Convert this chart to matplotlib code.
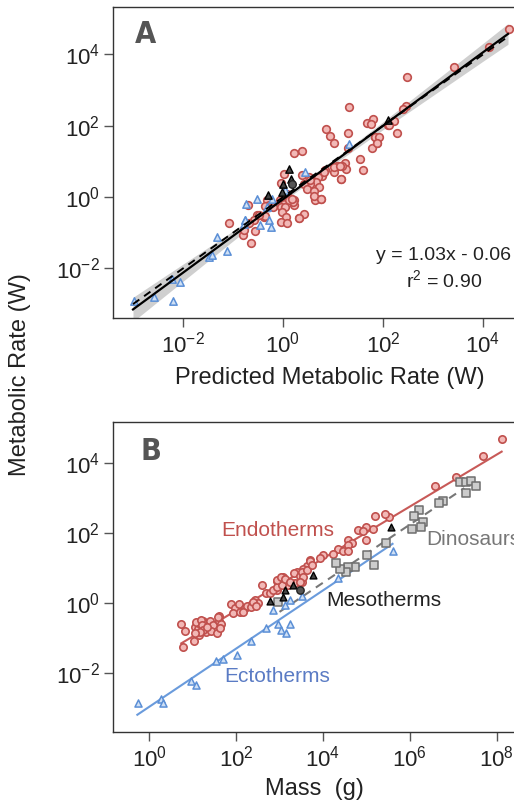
import numpy as np
import matplotlib
matplotlib.use("Agg")
import matplotlib.pyplot as plt
from matplotlib import ticker

plt.rcParams['font.family'] = ['Liberation Sans', 'DejaVu Sans']
plt.rcParams['mathtext.fontset'] = 'custom'
plt.rcParams['mathtext.rm'] = 'Liberation Sans'
plt.rcParams['mathtext.it'] = 'Liberation Sans:italic'
plt.rcParams['mathtext.bf'] = 'Liberation Sans:bold'

# --- data (log10 values) ---
# Panel A: predicted vs. observed metabolic rate
a_endo_x = [1.31, 0.86, 0.93, 1.29, 1.02, 1.67, 1.79, 1.75, 1.84, 1.88, 1.77, 2.09, 1.29, 1.53, 1.60,
            1.24, 1.26, 1.16, 1.02, 1.07, 1.17, 0.84, 0.77, 0.69, 0.66, 0.71, 0.54, 0.41, 0.47, 0.61,
            0.51, 0.37, 0.22, 0.38, 0.01, -0.04, 0.76, 0.64, 0.62, 0.07, 0.14, 0.21, 0.22, -0.06, 0.01,
            -0.05, 0.04, -0.03, -0.33, -0.29, -0.21, 0.41, 0.31, 0.06, -0.05, 0.07, -0.38, -0.53, -0.59,
            -0.69, -1.09, -0.71, -0.65, -0.81, -0.57, 3.41, 4.11, 4.51, 2.47, 2.45, 2.39, 2.21, 2.11,
            2.27, 1.83, 1.91, 1.87, 0.53, 0.81, 1.01, 1.13, 1.15, 0.75, 0.32, 0.19, 0.11, 0.17, -0.36,
            -0.37, -0.49, -0.78]
a_endo_y = [2.52, 1.92, 1.72, 1.79, 1.51, 2.08, 2.18, 2.05, 1.69, 1.53, 1.39, 2.02, 1.37, 1.07, 0.75,
            0.96, 0.78, 0.52, 0.71, 0.87, 0.87, 0.76, 0.59, 0.55, 0.43, 0.27, 0.36, 0.36, 0.24, 0.18,
            0.55, 0.63, 1.24, 1.28, 0.65, 0.40, -0.06, -0.08, 0.03, 0.08, -0.04, -0.08, -0.22, -0.08, -0.18,
            -0.29, -0.27, -0.41, -0.08, -0.22, -0.29, -0.48, -0.58, -0.57, -0.69, -0.72, -0.55, -0.50, -0.63,
            -0.74, -0.72, -0.22, -1.28, -1.07, -0.95, 3.64, 4.22, 4.71, 3.37, 2.56, 2.46, 2.14, 2.01,
            1.80, 1.69, 1.69, 1.52, 0.48, 0.71, 0.85, 0.87, 0.52, -0.06, -0.60, -0.13, -0.08, -0.04, -0.25,
            -0.53, -0.50, -0.91]
a_ecto_x = [1.31, 0.43, -0.53, -0.74, -0.23, -0.33, -0.76, -0.79, -0.46, -0.28, -0.24, 0.03, -2.98,
            -2.59, -2.21, -2.23, -2.07, -1.49, -1.42, -1.13, -1.33, -0.77]
a_ecto_y = [1.49, 0.71, -0.06, -0.20, -0.06, -0.27, -0.63, -0.76, -0.79, -0.65, -0.85, 0.20, -2.91,
            -2.80, -2.91, -2.29, -2.37, -1.67, -1.63, -1.51, -1.11, -0.65]
a_meso_x = [0.12, -0.01, 0.15, -0.03, -0.31, 2.09]
a_meso_y = [0.80, 0.36, 0.50, 0.15, 0.06, 2.16]
a_dino_x = [0.18]
a_dino_y = [0.36]

fit_slope, fit_icpt = 1.03, -0.06
fit_range = [-3.0, 4.5]
ci_x = [-3.0, -2.0, -1.0, 0.0, 0.5, 1.0, 2.0, 3.0, 4.0, 4.5]
ci_half = [0.34, 0.24, 0.14, 0.07, 0.06, 0.07, 0.11, 0.18, 0.25, 0.29]

# Panel B: metabolic rate vs. mass
b_endo_x = [8.11, 7.67, 7.06, 6.57, 5.52, 5.43, 5.20, 5.14, 5.00, 4.81, 4.93, 5.00, 4.58, 4.66, 4.58,
            4.35, 4.45, 4.58, 4.24, 3.99, 3.93, 3.70, 3.63, 3.55, 3.40, 3.34, 3.47, 3.09, 2.94, 3.51,
            3.36, 3.20, 2.59, 2.68, 2.78, 2.94, 2.44, 2.86, 2.95, 3.05, 2.94, 3.03, 3.13, 3.24, 3.51,
            3.55, 3.46, 3.64, 3.69, 3.74, 0.74, 0.82, 0.78, 1.03, 1.05, 1.13, 1.18, 1.23, 1.15, 1.28,
            1.36, 1.40, 1.46, 1.32, 1.43, 1.56, 1.61, 1.61, 1.66, 1.63, 1.09, 1.89, 1.97, 1.93, 2.07,
            2.08, 2.20, 2.25, 2.35, 2.45, 2.51, 1.19, 1.21, 1.25, 1.33, 1.16, 1.06, 1.59, 2.15, 2.40,
            2.46]
b_endo_y = [4.69, 4.21, 3.62, 3.36, 2.46, 2.55, 2.50, 2.12, 2.19, 2.09, 2.06, 1.81, 1.81, 1.71, 1.66,
            1.55, 1.50, 1.50, 1.40, 1.38, 1.28, 1.23, 1.07, 0.97, 0.90, 0.87, 0.77, 0.75, 0.63, 0.61,
            0.56, 0.52, 0.52, 0.30, 0.28, 0.37, 0.09, 0.37, 0.47, 0.52, 0.66, 0.75, 0.68, 0.61, 0.90,
            0.75, 0.61, 0.95, 1.21, 1.09, -0.60, -0.79, -1.27, -1.08, -0.68, -0.75, -0.60, -0.51, -0.92, -0.68,
            -0.73, -0.51, -0.63, -0.82, -0.79, -0.87, -0.37, -0.51, -0.60, -0.73, -0.54, -0.03, -0.15, -0.30, -0.03,
            -0.25, -0.15, -0.09, -0.11, -0.06, -0.01, -0.49, -0.63, -0.77, -0.68, -0.82, -0.87, -0.39, -0.25, 0.04,
            -0.09]
b_dino_x = [7.15, 7.28, 7.40, 7.53, 7.28, 6.77, 6.67, 6.21, 6.10, 6.29, 6.25, 6.05, 5.45, 5.02, 5.18,
            4.74, 4.58, 4.54, 4.39, 4.30, 2.97]
b_dino_y = [3.48, 3.48, 3.50, 3.36, 3.16, 2.92, 2.86, 2.66, 2.49, 2.31, 2.17, 2.11, 1.71, 1.38, 1.09,
            1.04, 1.02, 0.88, 0.97, 1.14, 0.04]
b_meso_x = [5.56, 3.78, 3.32, 3.13, 2.78, 3.07]
b_meso_y = [2.17, 0.80, 0.52, 0.37, 0.07, 0.18]
b_dark_x = [3.47]
b_dark_y = [0.37]
b_ecto_x = [5.60, 4.35, 3.52, 3.23, 3.13, 2.84, 2.96, 3.24, 3.03, 3.14, 2.68, 2.34, 2.03, 1.71, 1.53,
            0.97, 1.07, 0.28, 0.33, -0.26]
b_ecto_y = [1.49, 0.71, 0.21, 0.09, -0.06, -0.20, -0.61, -0.61, -0.77, -0.85, -0.73, -1.09, -1.49, -1.60, -1.65,
            -2.25, -2.35, -2.76, -2.87, -2.86]

# group fits: (slope, intercept, x start, x end)
endo_fit = (0.746, -1.71, 0.74, 8.11)
ecto_fit = (0.835, -2.98, -0.27, 5.60)
dino_fit = (0.835, -2.76, 3.0, 7.25)

RED_E, RED_F = '#c0504d', '#f2b8b6'
BLUE_E, BLUE_F = '#5b8fd6', '#cfe0f5'
GRAY_E, GRAY_F = '#6e6e6e', '#cccccc'


def p(v):
    return 10 ** np.asarray(v, dtype=float)


def style_axis(ax, xlim, ylim, xt, yt):
    ax.set_xscale('log')
    ax.set_yscale('log')
    ax.set_xlim(xlim)
    ax.set_ylim(ylim)
    ax.xaxis.set_major_locator(ticker.FixedLocator(xt))
    ax.yaxis.set_major_locator(ticker.FixedLocator(yt))
    ax.xaxis.set_minor_locator(ticker.NullLocator())
    ax.yaxis.set_minor_locator(ticker.NullLocator())
    ax.xaxis.set_major_formatter(ticker.LogFormatterSciNotation())
    ax.yaxis.set_major_formatter(ticker.LogFormatterSciNotation())
    ax.tick_params(direction='out', length=6.5, width=1, color='#555555',
                   labelsize=16, pad=3, labelcolor='#222222')
    ax.spines['right'].set_visible(False)
    for s in ['left', 'top', 'bottom']:
        ax.spines[s].set_color('#333333')
        ax.spines[s].set_linewidth(1.0)


fig = plt.figure(figsize=(5.14, 8.01), dpi=100)
W, H = 514, 801
axA = fig.add_axes([113 / W, (H - 318) / H, (547 - 113) / W, (318 - 7) / H])
axB = fig.add_axes([113 / W, (H - 732) / H, (516 - 113) / W, (732 - 422) / H])

# --- panel A ---
style_axis(axA, (10 ** -3.4, 10 ** 5.28), (10 ** -3.39, 10 ** 5.33),
           [1e-2, 1, 1e2, 1e4], [1e-2, 1, 1e2, 1e4])
cx = np.array(ci_x)
cy = fit_slope * cx + fit_icpt
axA.fill_between(p(cx), p(cy - np.array(ci_half)), p(cy + np.array(ci_half)),
                 color='#cfcfcf', lw=0, zorder=1)
axA.scatter(p(a_endo_x), p(a_endo_y), s=30, marker='o', facecolor=RED_F,
            edgecolor=RED_E, linewidth=1.2, zorder=3)
axA.scatter(p(a_ecto_x), p(a_ecto_y), s=28, marker='^', facecolor=BLUE_F,
            edgecolor=BLUE_E, linewidth=1.1, zorder=3)
axA.scatter(p(a_meso_x), p(a_meso_y), s=28, marker='^', facecolor='#444444',
            edgecolor='black', linewidth=1.0, zorder=4)
axA.scatter(p(a_dino_x), p(a_dino_y), s=30, marker='o', facecolor='#555555',
            edgecolor='#222222', linewidth=1.0, zorder=4)
fx = np.array(fit_range)
axA.plot(p(fx), p(fit_slope * fx + fit_icpt), color='black', lw=1.6, zorder=5)
axA.plot(p(fx), p(fx), color='black', lw=1.4, ls=(0, (4, 3)), zorder=5)
fig.text(444 / W, 1 - 269 / H, 'y = 1.03x - 0.06\nr$^2$ = 0.90', ha='center', va='center',
         fontsize=14, color='#222222', linespacing=1.25)
axA.text(0.074, 0.913, 'A', transform=axA.transAxes, fontsize=22, fontweight='bold',
         fontstretch='condensed', family='DejaVu Sans', color='#555555', ha='center', va='center')
axA.set_xlabel('Predicted Metabolic Rate (W)', fontsize=17, color='#222222', labelpad=7)

# --- panel B ---
style_axis(axB, (10 ** -0.83, 10 ** 8.44), (10 ** -3.70, 10 ** 5.19),
           [1, 1e2, 1e4, 1e6, 1e8], [1e-2, 1, 1e2, 1e4])
for (sl, ic, x0, x1), col, ls in [(endo_fit, '#c85a58', '-'), (ecto_fit, '#6a9bdc', '-'),
                                  (dino_fit, '#777777', (0, (4, 3)))]:
    lx = np.array([x0, x1])
    axB.plot(p(lx), p(sl * lx + ic), color=col, lw=1.5, ls=ls, zorder=2)
axB.scatter(p(b_endo_x), p(b_endo_y), s=28, marker='o', facecolor=RED_F,
            edgecolor=RED_E, linewidth=1.2, zorder=3)
axB.scatter(p(b_dino_x), p(b_dino_y), s=30, marker='s', facecolor=GRAY_F,
            edgecolor=GRAY_E, linewidth=1.1, zorder=3)
axB.scatter(p(b_ecto_x), p(b_ecto_y), s=26, marker='^', facecolor=BLUE_F,
            edgecolor=BLUE_E, linewidth=1.1, zorder=3)
axB.scatter(p(b_meso_x), p(b_meso_y), s=24, marker='^', facecolor='#444444',
            edgecolor='black', linewidth=1.0, zorder=4)
axB.scatter(p(b_dark_x), p(b_dark_y), s=28, marker='o', facecolor='#555555',
            edgecolor='#222222', linewidth=1.0, zorder=4)
axB.text(p(1.66), p(2.09), 'Endotherms', color='#c0504d', fontsize=15, va='center', ha='left')
axB.text(p(6.37), p(1.83), 'Dinosaurs', color='#777777', fontsize=15, va='center', ha='left')
axB.text(p(4.07), p(0.06), 'Mesotherms', color='#222222', fontsize=15, va='center', ha='left')
axB.text(p(1.72), p(-2.12), 'Ectotherms', color='#5a7bc4', fontsize=15, va='center', ha='left')
axB.text(0.094, 0.905, 'B', transform=axB.transAxes, fontsize=22, fontweight='bold',
         fontstretch='condensed', family='DejaVu Sans', color='#555555', ha='center', va='center')
axB.set_xlabel('Mass  (g)', fontsize=17, color='#222222', labelpad=5)

fig.text(20 / W, 1 - 375 / H, 'Metabolic Rate (W)', rotation=90, ha='center', va='center',
         fontsize=17, color='#222222')

fig.savefig('out.png', dpi=100)
